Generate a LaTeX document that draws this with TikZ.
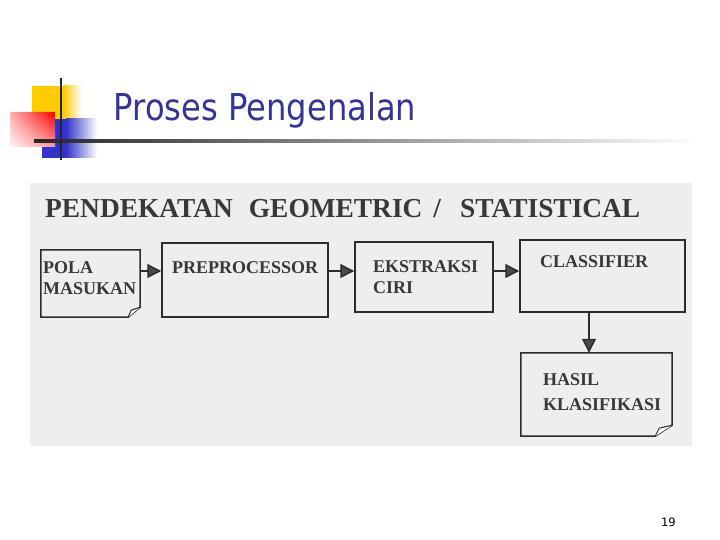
\documentclass[tikz,border=0pt]{standalone}
\usepackage{fontspec}
\setmainfont{Liberation Serif}
\newfontfamily\titlefont{DejaVu Sans}
\usetikzlibrary{arrows.meta,calc,shadings}
\definecolor{titleblue}{HTML}{333399}
\definecolor{logoyellow}{HTML}{FFCC00}
\definecolor{logoblue}{HTML}{3333CC}
\definecolor{scanbg}{HTML}{EEEEEE}
\definecolor{linec}{HTML}{2C2C2C}
\definecolor{textc}{HTML}{383838}
\definecolor{headc}{HTML}{4A4A4A}
\tikzset{
  box/.style={draw=linec, line width=1.5pt, inner sep=0pt},
  docshape/.style={draw=none, inner sep=0pt},
  docline/.style={draw=linec, line width=1.5pt, line join=miter},
  curl/.style={draw=linec, line width=1pt, fill=white},
  lbl/.style={anchor=base west, inner sep=0pt, text=textc, font=\bfseries\fontsize{18}{20}\selectfont},
  heading/.style={anchor=base west, inner sep=0pt, text=textc, font=\bfseries\fontsize{27.4}{30}\selectfont},
  arr/.style={draw=linec, line width=1.5pt, -{Triangle[length=14pt,width=14pt,fill=headc]}}
}
\begin{document}
\begin{tikzpicture}[x=1pt,y=-1pt]
\useasboundingbox (0,0) rectangle (720,540);
\fill[white] (0,0) rectangle (720,540);

% logo
\fill[logoyellow] (32,86) rectangle (63,128);
\shade[left color=logoyellow, right color=white] (63,86) rectangle (82,128);
\fill[logoblue] (42,119) rectangle (66,158);
\shade[left color=logoblue, right color=white] (66,119) rectangle (97,158);
\shade[upper left=red!30!white, upper right=red, lower left=red!4!white, lower right=red!40!white] (10,113) rectangle (55,147);
\shade[left color=black!85, middle color=black!30, right color=white] (34,139.5) rectangle (700,142.5);
\draw[line width=2.5pt, black!85] (61,78) -- (61,160);

% title
\node[anchor=base west, inner sep=0pt, text=titleblue, font=\titlefont\fontsize{37}{40}\selectfont] (title) at (113.5,121) {\scalebox{0.87}[1]{Proses Pengenalan}};

% scanned area
\fill[scanbg] (30,183) rectangle (692,446);

\node[heading] (head) at (45,218) {PENDEKATAN\hspace{16pt}GEOMETRIC\hspace{11pt}/\hspace{19pt}STATISTICAL};

% boxes
\node[docshape, minimum width=99pt, minimum height=67pt] (pola) at (90.5,283.5) {};
\node[box, minimum width=166pt, minimum height=74pt] (pre) at (245,280) {};
\node[box, minimum width=138pt, minimum height=70pt] (eks) at (424,277) {};
\node[box, minimum width=165pt, minimum height=72pt] (cls) at (602.5,276) {};
\node[docshape, minimum width=151pt, minimum height=83pt] (hasil) at (596.5,394.5) {};

\draw[docline] (pola.south west) -- (pola.north west) -- (pola.north east) -- ($(pola.south east)+(0,-10)$) -- ($(pola.south east)+(-12,0)$) -- cycle;
\draw[curl] ($(pola.south east)+(-12,0)$) -- ($(pola.south east)+(-9,-7)$) -- ($(pola.south east)+(0,-10)$);
\draw[docline] (hasil.south west) -- (hasil.north west) -- (hasil.north east) -- ($(hasil.south east)+(0,-11)$) -- ($(hasil.south east)+(-17,0)$) -- cycle;
\draw[curl] ($(hasil.south east)+(-17,0)$) -- ($(hasil.south east)+(-13,-8)$) -- ($(hasil.south east)+(0,-11)$);

% labels
\node[lbl] (t1) at (43,273) {POLA};
\node[lbl] (t2) at (43,294) {MASUKAN};
\node[lbl] (t3) at (172,273) {PREPROCESSOR};
\node[lbl] (t4) at (373,272) {EKSTRAKSI};
\node[lbl] (t5) at (373,293) {CIRI};
\node[lbl] (t6) at (540,267) {CLASSIFIER};
\node[lbl] (t7) at (543,385) {HASIL};
\node[lbl] (t8) at (543,410) {KLASIFIKASI};

% connectors
\coordinate (row) at (0,271);
\coordinate (col) at (589,0);
\draw[arr] (pola.east |- row) -- (pre.west |- row);
\draw[arr] (pre.east |- row) -- (eks.west |- row);
\draw[arr] (eks.east |- row) -- (cls.west |- row);
\draw[arr] (cls.south -| col) -- (hasil.north -| col);

% page number
\node[anchor=base east, inner sep=0pt, font=\titlefont\fontsize{11.5}{13}\selectfont] (pg) at (676,526) {19};
\end{tikzpicture}
\end{document}
